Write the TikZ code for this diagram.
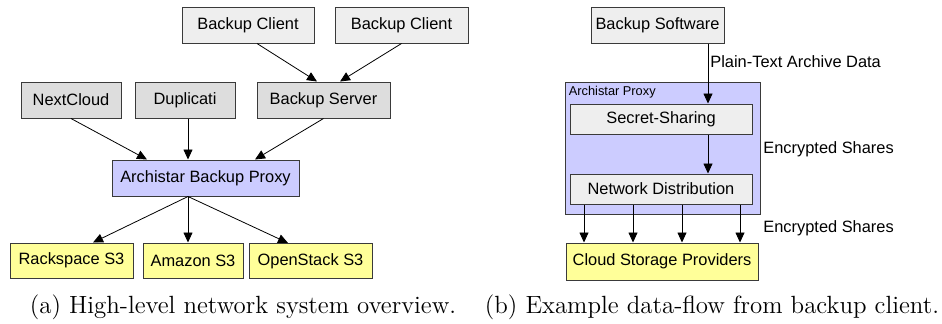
\documentclass[tikz,border=0pt]{standalone}
\usepackage{fontspec}
\usetikzlibrary{arrows.meta}
\newfontfamily\diafont{Liberation Sans}
\definecolor{clientgray}{HTML}{EEEEEE}
\definecolor{servergray}{HTML}{DDDDDD}
\definecolor{proxyblue}{HTML}{CCCCFF}
\definecolor{cloudyellow}{HTML}{FFFF99}
\definecolor{boxline}{HTML}{3A3A3A}

\begin{document}
\begin{tikzpicture}[x=0.5pt, y=-0.5pt, >={Triangle[length=5pt,width=4.5pt]},
  box/.style = {draw=boxline, line width=0.5pt, minimum height=18pt, inner sep=0pt, font=\diafont\fontsize{8.2}{9.8}\selectfont},
  client/.style = {box, fill=clientgray},
  service/.style = {box, fill=servergray},
  proxy/.style = {box, fill=proxyblue},
  store/.style = {box, fill=cloudyellow},
  lbl/.style = {font=\diafont\fontsize{8.2}{9.8}\selectfont, inner sep=1pt},
  captext/.style = {font=\fontsize{12.45}{15}\selectfont, anchor=base}]
\useasboundingbox (0,0) rectangle (942,323);
% (a) overview
\node[client, minimum width=66pt] (bc1) at (248,25) {Backup Client};
\node[client, minimum width=66.5pt] (bc2) at (401.5,25) {Backup Client};
\node[service, minimum width=50pt] (nc) at (71,100) {NextCloud};
\node[service, minimum width=50pt] (dup) at (185,100) {Duplicati};
\node[service, minimum width=66.5pt] (bs) at (323.5,100) {Backup Server};
\node[proxy, minimum width=93.5pt] (abp) at (205.5,178) {Archistar Backup Proxy};
\node[store, minimum width=61.5pt, minimum height=17.5pt] (rack) at (71.5,260.5) {Rackspace S3};
\node[store, minimum width=50pt, minimum height=17.5pt] (amz) at (193,260.5) {Amazon S3};
\node[store, minimum width=61.5pt, minimum height=17.5pt] (ops) at (310.5,261) {OpenStack S3};
\draw[->] ([xshift=4.5pt]bc1.south) -- ([xshift=-3.25pt]bs.north);
\draw[->] (bc2.south) -- ([xshift=8.25pt]bs.north);
\draw[->] (nc.south) -- ([xshift=-29.25pt]abp.north);
\draw[->] ([xshift=1.5pt]dup.south) -- ([xshift=-8.75pt]abp.north);
\draw[->] (bs.south) -- ([xshift=24.75pt]abp.north);
\foreach \n/\dx in {rack/10.75, amz/-2.5, ops/-11.25}
  \draw[->] ([xshift=-8.75pt]abp.south) -- ([xshift=\dx pt]\n.north);
\node[captext] (capa) at (243,313) {(a) High-level network system overview.};
% (b) data flow
\node[proxy, minimum width=97.5pt, minimum height=66pt] (ap) at (662.5,148) {};
\node[anchor=north west, inner sep=2pt, font=\diafont\fontsize{6.4}{7.7}\selectfont] (aplbl) at (ap.north west) {Archistar Proxy};
\node[client, minimum width=66.5pt] (sw) at (657.5,25) {Backup Software};
\node[client, minimum width=91pt, minimum height=15pt] (ss) at (661,119) {Secret-Sharing};
\node[client, minimum width=91pt, minimum height=15pt] (nd) at (661,189) {Network Distribution};
\node[store, minimum width=96pt, minimum height=18.5pt] (csp) at (662,261.5) {Cloud Storage Providers};
\draw[->] ([xshift=25.25pt]sw.south) -- ([xshift=25.25pt]sw.south |- ss.north)
  node[lbl, pos=0.31, right] {Plain-Text Archive Data};
\draw[->] ([xshift=23.5pt]ss.south) -- ([xshift=23.5pt]nd.north);
\foreach \dx in {-38.5,-14,10.5,39.5}
  \draw[->] ([xshift=\dx pt]nd.south) -- ([xshift=\dx pt]nd.south |- csp.north);
\node[lbl, anchor=west] (es1) at (761,149) {Encrypted Shares};
\node[lbl, anchor=west] (es2) at (761,228) {Encrypted Shares};
\node[captext] (capb) at (712,313) {(b) Example data-flow from backup client.};
\end{tikzpicture}
\end{document}
